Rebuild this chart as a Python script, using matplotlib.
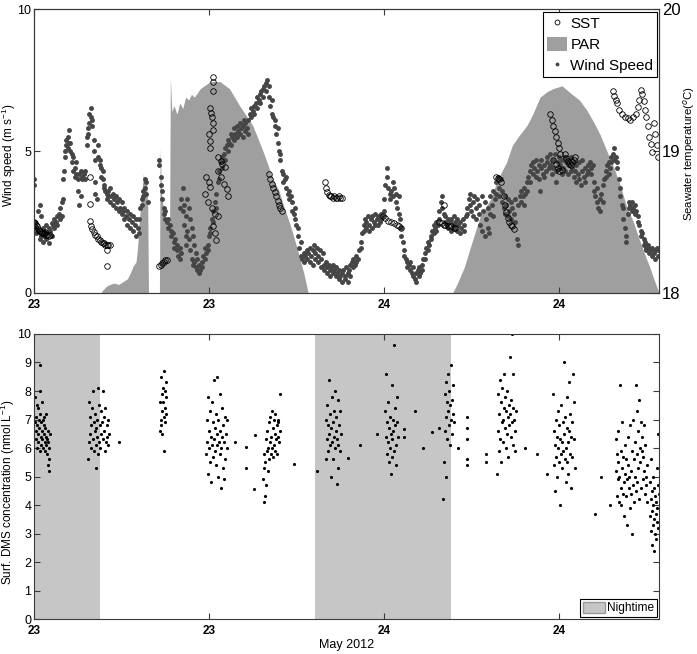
import numpy as np
import matplotlib
matplotlib.use('Agg')
import matplotlib.pyplot as plt
import matplotlib.dates as mdates
from matplotlib.patches import Patch
from matplotlib.lines import Line2D

plt.rcParams['font.family'] = ['Liberation Sans', 'DejaVu Sans']
plt.rcParams['mathtext.fontset'] = 'custom'
plt.rcParams['mathtext.rm'] = 'Liberation Sans'

# hours since 23 May 2012 00:00
start = np.datetime64('2012-05-23T00:00:00')
end_h = 42.86

# PAR (drawn on wind-speed scale)
par_h = [4.6, 4.7, 5.0, 5.2, 5.5, 5.8, 6.1, 6.4, 6.6, 6.8, 7.0, 7.1, 7.2, 7.3, 7.4, 7.5, 7.6, 7.7, 7.8, 7.85,
         8.6, 8.65, 8.75, 8.9, 9.1, 9.3, 9.35, 9.45, 9.6, 9.8, 10.0, 10.2, 10.4, 10.6, 10.8, 11.0, 11.4,
         12.1, 12.75, 13.4, 14.1, 15.0, 15.7, 16.4, 16.8, 17.1, 17.6, 18.0, 18.5, 18.8,
         28.7, 29.0, 29.5, 30.1, 30.6, 31.3, 31.8, 32.4, 32.8, 33.2, 33.8, 34.2, 34.7, 35.2, 35.6, 36.2,
         36.9, 37.4, 37.9, 38.4, 38.8, 39.2, 39.7, 40.2, 40.6, 41.1, 41.5, 42.0, 42.2, 42.5, 42.86]
par_v = [0.0, 0.1, 0.25, 0.3, 0.35, 0.3, 0.4, 0.5, 0.7, 0.95, 1.1, 1.6, 2.4, 3.0, 3.6, 4.2, 3.8, 4.1, 3.0, 0.0,
         0.0, 5.1, 3.5, 2.8, 2.6, 2.4, 7.6, 6.4, 6.6, 6.3, 6.7, 6.5, 6.9, 6.8, 7.0, 6.9, 7.2,
         7.45, 7.45, 7.2, 6.6, 5.9, 5.0, 4.0, 3.6, 3.1, 2.35, 1.65, 0.7, 0.0,
         0.0, 0.3, 0.9, 1.9, 2.7, 3.3, 4.0, 4.6, 5.2, 5.5, 5.9, 6.3, 6.9, 7.1, 7.2, 7.3,
         7.0, 6.8, 6.45, 6.0, 5.6, 5.1, 4.5, 3.8, 3.1, 2.5, 1.9, 1.2, 0.95, 0.5, 0.0]

# wind speed (m/s): (hour, readings)
wind_rows = [
    (0.0, [4.0, 3.8]), (0.05, [2.5, 2.4]), (0.15, [2.3, 2.1]), (0.3, [2.9, 2.2]), (0.4, [3.1, 1.9]),
    (0.5, [2.0, 2.7]), (0.6, [1.8, 2.3]), (0.7, [2.2, 2.0]), (0.8, [1.9, 2.4]), (0.9, [2.1]),
    (1.0, [1.75, 2.3]), (1.1, [2.2]), (1.2, [2.0, 2.45]), (1.3, [2.4]), (1.4, [2.6, 2.3]), (1.5, [2.5]),
    (1.6, [2.7, 2.4]), (1.7, [2.8]), (1.8, [3.0, 2.6]), (1.9, [3.2, 2.7]), (2.0, [4.0, 3.3]), (2.05, [4.3]),
    (2.1, [4.8, 5.0]), (2.2, [5.2, 5.4]), (2.3, [5.1, 5.5]), (2.4, [5.75, 5.3]), (2.5, [5.0, 5.3]),
    (2.6, [4.9, 4.6]), (2.7, [4.8, 4.3]), (2.8, [4.4, 4.1]), (2.9, [4.6, 4.2]), (3.0, [3.6, 4.0]),
    (3.1, [3.1, 4.2]), (3.2, [3.4, 4.3]), (3.3, [4.0, 4.1]), (3.4, [4.2]), (3.5, [4.3, 4.0]),
    (3.6, [5.2, 5.5]), (3.7, [5.8, 5.6]), (3.8, [6.0, 6.3]), (3.9, [6.5, 6.2]), (4.0, [6.1, 5.9]),
    (4.1, [5.4, 5.0]), (4.2, [4.7, 3.9, 3.5]), (4.3, [3.3]), (4.4, [4.8, 5.2]), (4.5, [4.5, 4.7]),
    (4.6, [4.4, 4.1]), (4.7, [4.0, 4.3]), (4.8, [3.8, 3.7]), (4.9, [3.6]), (5.0, [3.5, 3.3]),
    (5.1, [3.6, 3.4]), (5.2, [3.2, 3.7]), (5.3, [3.4]), (5.4, [3.5, 3.1]), (5.5, [3.3]), (5.6, [3.0, 3.4]),
    (5.7, [3.2]), (5.8, [2.9, 3.3]), (5.9, [3.0]), (6.0, [2.8, 3.2]), (6.1, [2.9]), (6.2, [2.6, 3.0]),
    (6.3, [2.7]), (6.4, [2.4, 2.9]), (6.5, [2.6]), (6.6, [2.3, 2.8]), (6.7, [2.5]), (6.8, [2.2, 2.7]),
    (6.9, [2.4]), (7.0, [2.0, 2.6]), (7.1, [2.3]), (7.2, [2.6, 2.1]), (7.3, [3.0]), (7.4, [3.3, 3.1]),
    (7.5, [3.6, 3.4]), (7.6, [4.0, 3.7]), (7.7, [3.9, 3.5]), (7.8, [3.2]),
    (8.6, [4.7, 4.5]), (8.7, [4.1, 3.8]), (8.8, [3.6, 3.3]), (8.9, [3.0, 2.8]), (9.0, [2.6, 2.9]),
    (9.1, [2.5]), (9.2, [2.3, 2.6]), (9.3, [2.4]), (9.4, [2.0, 2.2]), (9.5, [2.1]), (9.6, [1.8, 1.6]),
    (9.7, [1.9]), (9.8, [1.5, 1.7]), (9.9, [1.3]), (10.0, [1.2, 1.6, 3.0]), (10.1, [3.3, 1.4]),
    (10.2, [3.7, 2.9]), (10.3, [2.4, 3.1]), (10.4, [2.0, 2.7, 1.7]), (10.5, [3.3, 2.2]), (10.6, [3.0, 1.9]),
    (10.7, [2.6, 1.5]), (10.8, [2.3, 1.2]), (10.9, [2.0, 1.0]), (11.0, [1.1, 1.7]), (11.1, [0.9, 1.4]),
    (11.2, [0.8, 1.2]), (11.3, [0.7, 1.0]), (11.4, [0.8]), (11.5, [1.1, 0.9]), (11.6, [1.3]),
    (11.7, [1.2, 1.6]), (11.8, [1.4]), (11.9, [1.7, 1.5]), (12.0, [2.0]), (12.1, [2.3, 2.1]), (12.2, [2.6]),
    (12.3, [2.9, 2.5]), (12.4, [3.2]), (12.5, [3.5, 3.0]), (12.6, [3.9]), (12.7, [4.3, 4.0]), (12.8, [4.6]),
    (12.9, [4.8, 4.4]), (13.0, [4.9]), (13.1, [5.1, 4.7]), (13.2, [5.2]), (13.3, [5.4, 5.0]), (13.4, [5.3]),
    (13.5, [5.6, 5.2]), (13.6, [5.5]), (13.7, [5.8, 5.4]), (13.8, [5.6]), (13.9, [5.9, 5.5]), (14.0, [5.7]),
    (14.1, [6.0, 5.6]), (14.2, [5.8]), (14.3, [5.9, 5.5]), (14.4, [6.1]), (14.5, [5.7, 6.0]), (14.6, [5.8]),
    (14.7, [6.1, 5.6]), (14.8, [6.3]), (14.9, [6.2, 6.5]), (15.0, [6.4]), (15.1, [6.6, 6.3]), (15.2, [6.7]),
    (15.3, [6.5, 6.9]), (15.4, [6.8]), (15.5, [7.0, 6.7]), (15.6, [7.1]), (15.7, [6.9, 7.2]), (15.8, [7.3]),
    (15.9, [7.1, 7.4]), (16.0, [7.5]), (16.1, [7.3, 6.9]), (16.2, [6.6]), (16.3, [6.3, 6.8]), (16.4, [6.2]),
    (16.5, [5.9, 6.1]), (16.6, [5.6]), (16.7, [5.3, 5.8]), (16.8, [5.0]), (16.9, [4.7, 4.9]), (17.0, [4.3]),
    (17.1, [4.2, 3.9]), (17.2, [4.0]), (17.3, [3.7, 4.1]), (17.4, [3.5]), (17.5, [3.6, 3.3]), (17.6, [3.4]),
    (17.7, [3.2, 2.9]), (17.8, [2.8]), (17.9, [2.6, 3.0]), (18.0, [2.4]), (18.1, [2.0, 2.3]), (18.2, [1.6]),
    (18.3, [1.3, 1.8]), (18.4, [1.2]), (18.5, [1.4, 1.1]), (18.6, [1.3]), (18.7, [1.5, 1.2]), (18.8, [1.4]),
    (18.9, [1.1, 1.6]), (19.0, [1.3]), (19.1, [1.5, 1.0]), (19.2, [1.7]), (19.3, [1.2, 1.4]), (19.4, [1.6]),
    (19.5, [1.1, 1.3]), (19.6, [1.5]), (19.7, [0.9, 1.2]), (19.8, [1.4]), (19.9, [1.0, 0.8]), (20.0, [1.1]),
    (20.1, [0.9, 0.7]), (20.2, [1.0]), (20.3, [0.8, 0.6]), (20.4, [0.9]), (20.5, [0.7, 1.0]), (20.6, [0.8]),
    (20.7, [0.6, 0.9]), (20.8, [0.7]), (20.9, [0.5, 0.8]), (21.0, [0.6]), (21.1, [0.4, 0.7]), (21.2, [0.8]),
    (21.3, [0.5, 0.6]), (21.4, [0.9]), (21.5, [0.7, 0.4]), (21.6, [0.8]), (21.7, [1.0, 0.6]), (21.8, [1.1]),
    (21.9, [0.9, 1.2]), (22.0, [1.0]), (22.1, [1.3, 1.1]), (22.2, [1.2]), (22.3, [1.5]), (22.4, [1.8, 1.6]),
    (22.5, [2.1]), (22.6, [2.4, 2.2]), (22.7, [2.6]), (22.8, [2.3, 2.5]), (22.9, [2.7]), (23.0, [2.4, 2.2]),
    (23.1, [2.6]), (23.2, [2.3, 2.7]), (23.3, [2.5]), (23.4, [2.8, 2.4]), (23.5, [2.6]), (23.6, [2.4, 2.7]),
    (23.7, [2.5]), (23.8, [2.8, 2.6]), (23.9, [2.7]), (24.0, [3.3, 2.9]), (24.1, [3.8]), (24.2, [4.4, 4.1]),
    (24.3, [3.7]), (24.4, [3.5, 3.3]), (24.5, [3.6]), (24.6, [3.9, 3.4]), (24.7, [3.7]), (24.8, [3.5, 3.2]),
    (24.9, [3.0]), (25.0, [3.4, 2.8]), (25.1, [2.6]), (25.2, [2.3, 2.0]), (25.3, [1.8]), (25.4, [1.5, 1.3]),
    (25.5, [1.2]), (25.6, [1.1, 0.9]), (25.7, [1.0]), (25.8, [0.8, 1.1]), (25.9, [0.7]), (26.0, [0.6, 0.9]),
    (26.1, [0.5]), (26.2, [0.7, 0.4]), (26.3, [0.8]), (26.4, [0.6, 0.9]), (26.5, [0.7]), (26.6, [1.0, 0.8]),
    (26.7, [1.2]), (26.8, [1.4, 1.2]), (26.9, [1.6]), (27.0, [1.5, 1.8]), (27.1, [1.7]), (27.2, [2.0, 1.9]),
    (27.3, [2.2]), (27.4, [2.1, 2.4]), (27.5, [2.3]), (27.6, [2.2, 2.5]), (27.7, [2.4]), (27.8, [2.9, 2.6]),
    (27.9, [3.2]), (28.0, [3.4, 3.0]), (28.1, [2.8]), (28.2, [2.5, 2.7]), (28.3, [2.4]), (28.4, [2.6, 2.3]),
    (28.5, [2.5]), (28.6, [2.2, 2.6]), (28.7, [2.4]), (28.8, [2.7, 2.3]), (28.9, [2.5]), (29.0, [2.2, 2.6]),
    (29.1, [2.4]), (29.2, [2.1, 2.5]), (29.3, [2.3]), (29.4, [2.6]), (29.5, [2.2, 2.4]), (29.6, [2.7]),
    (29.7, [3.0, 2.8]), (29.8, [3.3]), (29.9, [3.5, 3.1]), (30.0, [2.9]), (30.1, [3.2, 2.7]), (30.2, [3.4]),
    (30.3, [3.0, 2.6]), (30.4, [3.3]), (30.5, [2.8, 3.1]), (30.6, [2.4]), (30.7, [3.4, 2.2]), (30.8, [2.9]),
    (30.9, [2.0, 3.2]), (31.0, [2.6]), (31.1, [2.3, 3.0]), (31.2, [2.1]), (31.3, [2.8, 3.4]), (31.4, [3.1]),
    (31.5, [3.6, 2.7]), (31.6, [3.3]), (31.7, [3.9, 3.5]), (31.8, [4.1]), (31.9, [3.7, 3.4]), (32.0, [4.0]),
    (32.1, [3.6, 3.2]), (32.2, [3.0]), (32.3, [3.4, 2.8]), (32.4, [3.1]), (32.5, [2.7, 3.3]), (32.6, [2.9]),
    (32.7, [2.6, 3.2]), (32.8, [3.0]), (32.9, [2.8]), (33.0, [3.3, 2.5]), (33.1, [1.9]), (33.2, [1.7, 3.1]),
    (33.3, [3.4]), (33.4, [3.6, 3.2]), (33.5, [3.4]), (33.6, [3.7, 3.1]), (33.7, [3.5]), (33.8, [3.9, 3.6]),
    (33.9, [4.1]), (34.0, [4.3, 3.9]), (34.1, [4.5]), (34.2, [4.6, 4.2]), (34.3, [4.4]), (34.4, [4.7, 4.1]),
    (34.5, [4.3]), (34.6, [4.5, 4.0]), (34.7, [3.6]), (34.8, [4.4, 4.7]), (34.9, [4.2]), (35.0, [4.5, 4.1]),
    (35.1, [4.3]), (35.2, [4.6, 4.8]), (35.3, [4.4]), (35.4, [4.9, 4.5]), (35.5, [4.2]), (35.6, [4.7, 4.4]),
    (35.7, [4.9]), (35.8, [4.3, 3.9]), (35.9, [4.6]), (36.0, [4.4, 4.8]), (36.1, [4.5]), (36.2, [4.2, 4.7]),
    (36.3, [4.4]), (36.4, [4.8, 4.3]), (36.5, [4.6]), (36.6, [4.2, 4.7]), (36.7, [4.5]), (36.8, [4.3, 4.8]),
    (36.9, [4.4]), (37.0, [4.6, 4.1]), (37.1, [4.3]), (37.2, [4.5, 3.9]), (37.3, [4.2]), (37.4, [4.6, 4.0]),
    (37.5, [3.8]), (37.6, [4.3, 4.7]), (37.7, [4.1]), (37.8, [3.9, 4.4]), (37.9, [4.2]), (38.0, [4.3, 4.5]),
    (38.1, [4.6]), (38.2, [4.4, 4.2]), (38.3, [4.5]), (38.4, [3.9, 3.6]), (38.5, [3.4]), (38.6, [3.2, 3.7]),
    (38.7, [3.0]), (38.8, [3.3, 2.9]), (38.9, [3.5]), (39.0, [3.8, 3.2]), (39.1, [4.0]), (39.2, [4.3, 4.1]),
    (39.3, [4.5]), (39.4, [4.2, 4.6]), (39.5, [4.4]), (39.6, [4.6, 4.8]), (39.7, [4.9]), (39.8, [5.1, 4.7]),
    (39.9, [4.8]), (40.0, [4.6, 4.4]), (40.1, [4.0]), (40.2, [3.7, 3.4]), (40.3, [3.1]), (40.4, [3.0, 2.6]),
    (40.5, [2.3]), (40.6, [2.0, 1.8]), (40.7, [2.8]), (40.8, [3.0, 3.2]), (40.9, [3.1]), (41.0, [2.9, 3.2]),
    (41.1, [3.0]), (41.2, [3.1, 2.8]), (41.3, [2.9]), (41.4, [2.7, 2.5]), (41.5, [2.4]), (41.6, [2.2, 2.0]),
    (41.7, [2.1]), (41.8, [1.9, 1.7]), (41.9, [1.8]), (42.0, [1.6, 1.5]), (42.1, [1.7]), (42.2, [1.4, 1.6]),
    (42.3, [1.5]), (42.4, [1.3, 1.6]), (42.5, [1.4]), (42.6, [1.5, 1.2]), (42.7, [1.6]), (42.8, [1.3, 1.5]),
]

# sea surface temperature (deg C)
sst_h = [0.0, 0.1, 0.15, 0.2, 0.3, 0.35, 0.4, 0.5, 0.55, 0.6, 0.7, 0.75, 0.8, 0.9, 1.0, 1.1,
         3.84, 3.84, 3.84, 3.9, 4.0, 4.1, 4.2, 4.3, 4.4, 4.5, 4.6, 4.7, 4.8, 4.9, 5.0, 5.1, 5.2, 4.98, 4.98,
         8.6, 8.7, 8.8, 8.9, 9.0, 9.1,
         12.3, 12.3, 12.3, 12.1, 12.15, 12.2, 12.25, 12.3, 12.0, 12.05, 12.1, 12.6, 12.8, 12.9, 13.1,
         12.6, 12.8, 13.0, 13.2, 13.3, 11.8, 12.0, 12.1, 11.7, 11.9, 12.2, 12.4, 12.6, 12.3, 12.4, 12.5,
         16.1, 16.2, 16.3, 16.4, 16.5, 16.6, 16.7, 16.8, 16.9, 17.0,
         19.95, 20.0, 20.1, 20.2, 20.3, 20.4, 20.5, 20.6, 20.7, 20.8, 20.9, 21.0, 21.1,
         23.95, 24.1, 24.3, 24.5, 24.7, 24.9, 25.05, 25.2,
         27.8, 28.0, 28.1, 28.2, 28.4, 28.6, 28.8, 28.9, 28.1,
         31.7, 31.8, 31.9, 32.0, 32.2, 32.3, 32.4, 32.5, 32.6, 32.7, 32.8, 32.9,
         35.4, 35.5, 35.6, 35.7, 35.8, 35.9, 36.0, 36.1, 35.6, 35.8, 35.9, 36.0, 36.2,
         36.4, 36.5, 36.6, 36.7, 36.8, 36.9, 37.0, 37.1,
         39.7, 39.8, 39.9, 40.0, 40.1, 40.3, 40.5, 40.7, 40.9, 41.1, 41.3,
         41.4, 41.5, 41.6, 41.7, 41.8, 41.9, 42.0, 42.1, 42.2, 42.3, 42.4, 42.5, 42.6, 42.7, 42.8]
sst_v = [18.50, 18.49, 18.48, 18.47, 18.45, 18.44, 18.44, 18.43, 18.42, 18.42, 18.42, 18.43, 18.41, 18.41, 18.40, 18.41,
         18.82, 18.63, 18.51, 18.47, 18.45, 18.43, 18.41, 18.40, 18.38, 18.37, 18.36, 18.35, 18.35, 18.34, 18.34, 18.34, 18.34, 18.30, 18.19,
         18.19, 18.20, 18.21, 18.22, 18.23, 18.23,
         19.52, 19.49, 19.42, 19.30, 19.27, 19.24, 19.20, 19.15, 19.12, 19.07, 19.02, 18.96, 18.93, 18.91, 18.89,
         18.86, 18.82, 18.77, 18.73, 18.68, 18.82, 18.78, 18.75, 18.70, 18.64, 18.60, 18.56, 18.54, 18.47, 18.42, 18.37,
         18.84, 18.80, 18.77, 18.74, 18.71, 18.68, 18.65, 18.62, 18.60, 18.58,
         18.78, 18.74, 18.71, 18.69, 18.68, 18.68, 18.67, 18.68, 18.67, 18.67, 18.68, 18.67, 18.67,
         18.54, 18.53, 18.51, 18.50, 18.49, 18.48, 18.47, 18.46,
         18.50, 18.49, 18.48, 18.48, 18.47, 18.47, 18.46, 18.46, 18.62,
         18.82, 18.81, 18.80, 18.78, 18.68, 18.62, 18.57, 18.53, 18.50, 18.48, 18.47, 18.45,
         19.26, 19.22, 19.18, 19.14, 19.10, 19.06, 19.02, 18.98, 18.94, 18.91, 18.88, 18.86, 18.87,
         18.98, 18.95, 18.93, 18.91, 18.90, 18.92, 18.94, 18.96,
         19.42, 19.39, 19.36, 19.34, 19.29, 19.26, 19.24, 19.23, 19.22, 19.24, 19.26,
         19.31, 19.36, 19.43, 19.40, 19.35, 19.29, 19.24, 19.18, 19.10, 19.05, 18.99, 19.20, 19.12, 19.04, 18.96]

# surface DMS (nmol/L), one list per sampling burst
dms_c1 = [(0.08, 6.9), (0.10, 7.8), (0.12, 6.3), (0.14, 6.6), (0.17, 7.1), (0.20, 6.0), (0.22, 6.8), (0.22, 7.5),
          (0.25, 7.4), (0.27, 6.5), (0.30, 6.2), (0.32, 7.0), (0.35, 6.7), (0.38, 5.9), (0.40, 8.9), (0.40, 8.0),
          (0.42, 7.2), (0.45, 6.4), (0.48, 6.9), (0.50, 6.1), (0.53, 7.6), (0.55, 6.6), (0.58, 6.3), (0.60, 7.0),
          (0.63, 6.0), (0.66, 6.8), (0.68, 6.5), (0.70, 7.1), (0.73, 6.2), (0.75, 5.9), (0.78, 6.7), (0.80, 6.4),
          (0.83, 7.2), (0.85, 6.1), (0.88, 6.3), (0.90, 5.8), (0.93, 6.6), (0.95, 5.4), (0.98, 6.2), (1.00, 5.2),
          (1.03, 6.0), (1.06, 5.6), (1.08, 6.5)]
dms_c2 = [(3.72, 5.6), (3.75, 7.6), (3.78, 6.2), (3.82, 7.1), (3.86, 6.5), (3.90, 6.0), (3.94, 6.8), (3.98, 7.4),
          (4.02, 8.0), (4.05, 6.3), (4.08, 6.9), (4.12, 5.9), (4.15, 7.2), (4.18, 6.6), (4.22, 6.1), (4.25, 5.3),
          (4.28, 6.7), (4.32, 7.0), (4.35, 6.4), (4.38, 5.8), (4.42, 8.1), (4.45, 6.2), (4.48, 7.5), (4.52, 6.8),
          (4.55, 6.0), (4.58, 7.3), (4.62, 6.5), (4.65, 6.9), (4.70, 8.0), (4.74, 6.3), (4.78, 7.1), (4.82, 6.6),
          (4.86, 5.9), (4.90, 7.4), (4.94, 6.2), (4.98, 6.8), (5.02, 6.4), (5.06, 7.0), (5.10, 6.1), (5.15, 6.5)]
dms_c3 = [(8.62, 6.6), (8.65, 7.6), (8.68, 8.5), (8.70, 7.0), (8.72, 6.8), (8.75, 7.9), (8.78, 7.3), (8.80, 6.5),
          (8.82, 8.1), (8.85, 7.6), (8.88, 5.9), (8.90, 7.1), (8.92, 8.7), (8.95, 7.4), (8.98, 6.9), (9.00, 8.0),
          (9.02, 7.2), (9.05, 8.3), (9.08, 7.8)]
dms_c4 = [(11.82, 5.8), (11.85, 7.0), (11.88, 6.2), (11.92, 7.8), (11.95, 5.1), (11.98, 6.6), (12.02, 6.0),
          (12.05, 7.3), (12.08, 5.5), (12.12, 6.4), (12.15, 4.8), (12.18, 7.6), (12.22, 6.1), (12.25, 5.7),
          (12.28, 6.9), (12.32, 6.3), (12.35, 8.4), (12.38, 5.9), (12.42, 6.7), (12.45, 7.2), (12.48, 5.4),
          (12.52, 6.1), (12.55, 8.5), (12.58, 6.5), (12.62, 5.0), (12.65, 7.0), (12.68, 6.2), (12.72, 7.9),
          (12.75, 5.8), (12.78, 6.6), (12.82, 4.6), (12.85, 6.0), (12.88, 7.4), (12.92, 6.4), (12.95, 5.3),
          (12.98, 6.8), (13.02, 4.9), (13.05, 6.2), (13.08, 7.1), (13.12, 5.6), (13.15, 6.5), (13.20, 6.0),
          (13.25, 7.0)]
dms_c5 = [(15.72, 4.9), (15.75, 5.8), (15.78, 4.1), (15.80, 5.3), (15.83, 4.3), (15.86, 5.5), (15.90, 6.3),
          (15.93, 4.7), (15.96, 5.9), (16.00, 6.6), (16.03, 5.2), (16.06, 6.0), (16.10, 6.9), (16.13, 5.6),
          (16.16, 6.2), (16.20, 7.1), (16.23, 5.8), (16.26, 6.4), (16.30, 6.0), (16.33, 7.3), (16.36, 5.7),
          (16.40, 6.7), (16.43, 6.1), (16.46, 7.0), (16.50, 5.9), (16.53, 6.5), (16.56, 7.2), (16.60, 6.3),
          (16.63, 6.8), (16.66, 5.8), (16.70, 7.0), (16.73, 6.4), (16.76, 6.9), (16.80, 6.2), (16.85, 7.9),
          (16.90, 6.6)]
dms_c6 = [(20.02, 5.6), (20.05, 7.0), (20.08, 6.3), (20.12, 7.5), (20.15, 5.9), (20.18, 6.8), (20.22, 6.5),
          (20.25, 8.4), (20.28, 6.1), (20.32, 7.2), (20.35, 5.0), (20.38, 6.7), (20.42, 7.8), (20.45, 6.2),
          (20.48, 6.9), (20.52, 5.6), (20.55, 7.3), (20.58, 6.4), (20.62, 8.0), (20.65, 6.0), (20.68, 6.6),
          (20.72, 7.1), (20.75, 4.75), (20.78, 6.3), (20.82, 5.3), (20.85, 7.7), (20.88, 6.1), (20.92, 6.8),
          (20.96, 5.9), (21.00, 7.3), (21.05, 6.5)]
dms_c7 = [(24.08, 7.3), (24.12, 6.4), (24.15, 8.6), (24.18, 5.8), (24.22, 6.9), (24.25, 6.2), (24.28, 7.6),
          (24.32, 5.5), (24.35, 6.7), (24.38, 6.0), (24.42, 7.1), (24.45, 5.1), (24.48, 6.5), (24.52, 8.2),
          (24.55, 6.3), (24.58, 5.7), (24.62, 7.0), (24.65, 6.6), (24.70, 9.6), (24.72, 5.9), (24.75, 6.8),
          (24.78, 7.4), (24.82, 6.1), (24.85, 5.4), (24.88, 6.9), (24.92, 7.8), (24.96, 6.4)]
dms_c8 = [(28.08, 4.2), (28.12, 5.5), (28.15, 7.9), (28.18, 6.6), (28.22, 8.3), (28.25, 5.0), (28.28, 7.1),
          (28.32, 7.6), (28.35, 6.3), (28.38, 8.6), (28.42, 7.3), (28.45, 6.8), (28.48, 8.0), (28.52, 7.5),
          (28.55, 6.1), (28.58, 8.9), (28.62, 7.0), (28.65, 7.7), (28.68, 6.5), (28.72, 8.2), (28.75, 7.2),
          (28.80, 6.9)]
dms_c9 = [(31.78, 5.1), (31.82, 6.6), (31.85, 7.9), (31.88, 5.9), (31.92, 7.2), (31.95, 8.4), (31.98, 6.3),
          (32.02, 7.6), (32.05, 5.5), (32.08, 6.9), (32.12, 8.1), (32.15, 7.0), (32.18, 6.2), (32.22, 7.4),
          (32.25, 8.6), (32.28, 6.7), (32.32, 7.8), (32.35, 6.0), (32.38, 7.3), (32.42, 6.5), (32.45, 8.0),
          (32.48, 7.1), (32.52, 5.7), (32.55, 7.5), (32.58, 6.8), (32.62, 9.2), (32.65, 7.2), (32.68, 6.4),
          (32.72, 7.7), (32.75, 10.0), (32.78, 6.9), (32.82, 7.4), (32.85, 8.6), (32.88, 6.1), (32.92, 7.0),
          (32.96, 5.9), (33.00, 6.6), (33.05, 7.3)]
dms_c10 = [(35.62, 7.9), (35.65, 5.4), (35.68, 6.6), (35.72, 4.5), (35.75, 6.1), (35.78, 7.0), (35.82, 5.7),
           (35.85, 6.4), (35.88, 5.0), (35.92, 7.3), (35.95, 6.0), (35.98, 5.5), (36.02, 6.8), (36.05, 4.0),
           (36.08, 6.3), (36.12, 5.8), (36.15, 7.5), (36.18, 6.2), (36.22, 5.3), (36.25, 6.9), (36.28, 5.9),
           (36.32, 9.0), (36.35, 6.5), (36.38, 5.6), (36.42, 7.1), (36.45, 6.0), (36.48, 4.8), (36.52, 6.7),
           (36.55, 5.5), (36.58, 7.8), (36.62, 6.2), (36.65, 5.1), (36.68, 6.6), (36.72, 8.3), (36.75, 5.8),
           (36.78, 7.2), (36.82, 6.4), (36.85, 4.6), (36.88, 6.9), (36.92, 5.7), (36.96, 8.6), (37.00, 6.3),
           (37.05, 7.6), (37.10, 5.3)]
dms_c11 = [(39.88, 6.3), (39.92, 5.2), (39.95, 4.3), (39.98, 5.8), (40.02, 4.9), (40.05, 6.6), (40.08, 5.5),
           (40.12, 4.1), (40.15, 5.0), (40.18, 8.2), (40.22, 4.6), (40.25, 5.9), (40.28, 4.0), (40.32, 6.9),
           (40.35, 5.3), (40.38, 4.4), (40.42, 5.7), (40.45, 3.6), (40.48, 4.8), (40.52, 6.1), (40.55, 5.1),
           (40.58, 4.3), (40.62, 5.6), (40.65, 3.3), (40.68, 4.9), (40.72, 6.4), (40.75, 5.4), (40.78, 4.6),
           (40.82, 5.0), (40.85, 3.9), (40.88, 6.8), (40.92, 5.2), (40.95, 4.4), (40.98, 5.9), (41.02, 3.0),
           (41.05, 4.7), (41.08, 7.0), (41.12, 5.6), (41.15, 4.1), (41.18, 6.2), (41.22, 5.0), (41.25, 8.2),
           (41.28, 4.5), (41.32, 5.8), (41.35, 7.3), (41.38, 4.8), (41.42, 6.6), (41.45, 5.3), (41.48, 7.7),
           (41.52, 4.2), (41.55, 6.0), (41.58, 5.5), (41.62, 6.9), (41.65, 4.6), (41.68, 5.9), (41.72, 6.4),
           (41.75, 4.9), (41.78, 5.7), (41.82, 6.8), (41.85, 5.2), (41.88, 4.4), (41.92, 6.1), (41.95, 5.0),
           (41.98, 4.7), (42.02, 5.4), (42.06, 4.1)]
dms_c12 = [(42.22, 4.8), (42.25, 3.6), (42.28, 5.6), (42.30, 4.2), (42.33, 3.1), (42.36, 4.5), (42.38, 2.6),
           (42.40, 3.8), (42.42, 5.0), (42.45, 3.3), (42.48, 4.0), (42.50, 2.4), (42.52, 3.5), (42.55, 4.6),
           (42.58, 3.0), (42.60, 4.3), (42.62, 3.7), (42.65, 2.8), (42.68, 4.1), (42.70, 3.4), (42.72, 5.3),
           (42.75, 3.9), (42.78, 4.7), (42.80, 3.2), (42.82, 6.5), (42.84, 4.4)]
dms_single = [(5.8, 6.2), (13.8, 6.2), (14.55, 6.05), (14.55, 5.3), (15.1, 4.55), (15.15, 6.45), (17.8, 5.45),
              (19.4, 5.2), (21.55, 5.65), (22.35, 6.1), (23.5, 6.5), (25.4, 6.4), (25.4, 6.65), (26.1, 7.3),
              (26.65, 6.0), (27.3, 6.55), (27.8, 6.7), (29.1, 6.0), (29.7, 5.4), (29.7, 5.6), (29.7, 6.3),
              (29.7, 6.7), (29.7, 7.1), (31.0, 5.5), (31.0, 5.8), (33.7, 6.0), (34.5, 5.8), (35.2, 5.1),
              (38.5, 3.7), (38.9, 5.0), (39.5, 4.0)]

night_start = [0.0, 19.25]
night_end = [4.53, 28.57]

par_color = '#9f9f9f'
wind_color = '#454545'
night_color = '#c6c6c6'
spine_color = '#3a3a3a'


def to_time(h):
    return start + (np.asarray(h, dtype=float) * 3600).astype('timedelta64[s]')


wind_h = [h for h, vals in wind_rows for v in vals]
wind_v = [v for h, vals in wind_rows for v in vals]

dms_all = dms_c1 + dms_c2 + dms_c3 + dms_c4 + dms_c5 + dms_c6 + dms_c7 + dms_c8 + dms_c9 + dms_c10 \
    + dms_c11 + dms_c12 + dms_single
dms_h = [p[0] for p in dms_all]
dms_v = [p[1] for p in dms_all]

fig = plt.figure(figsize=(6.97, 6.54), dpi=100)
ax1 = fig.add_axes([0.0488, 0.552, 0.8967, 0.434])
ax2 = ax1.twinx()
ax3 = fig.add_axes([0.0488, 0.0535, 0.8967, 0.4358])

x0, x1 = to_time(0.0), to_time(end_h)

# top panel
ax1.fill_between(to_time(par_h), 0, par_v, color=par_color, lw=0)
ax1.plot(to_time(wind_h), wind_v, ls='none', marker='.', ms=5, color=wind_color)
ax2.plot(to_time(sst_h), sst_v, ls='none', marker='o', ms=4, mfc='none', mec='black', mew=0.6)

ax1.set_ylim(0, 10)
ax1.set_yticks([0, 5, 10])
ax2.set_ylim(18, 20)
ax2.set_yticks([18, 19, 20])
ax1.set_ylabel('Wind speed (m s$^{-1}$)', fontsize=8.5)
ax1.yaxis.set_label_coords(-0.026, 0.486)
ax2.set_ylabel('Seawater temperature($^{o}$C)', fontsize=8.2)
ax2.yaxis.set_label_coords(1.0355, 0.49)

handles = [Line2D([], [], ls='none', marker='o', ms=3.5, mfc='none', mec='black', mew=0.6),
           Patch(facecolor=par_color, edgecolor='none'),
           Line2D([], [], ls='none', marker='.', ms=3.5, color=wind_color)]
leg = ax2.legend(handles, ['SST', 'PAR', 'Wind Speed'], loc='upper right', bbox_to_anchor=(0.997, 0.99),
                 fontsize=11, frameon=True, fancybox=False, framealpha=1, edgecolor='black',
                 borderpad=0.25, labelspacing=0.34, handlelength=1.35, handleheight=1.1,
                 handletextpad=0.2, borderaxespad=0)
leg.get_frame().set_linewidth(0.8)

# bottom panel
for s, e in zip(night_start, night_end):
    ax3.axvspan(to_time(s), to_time(e), color=night_color, lw=0)
ax3.plot(to_time(dms_h), dms_v, ls='none', marker='.', ms=2.5, color='black')
ax3.set_ylim(0, 10)
ax3.set_yticks(range(0, 11))
ax3.set_ylabel('Surf. DMS concentration (nmol L$^{-1}$)', fontsize=8.5)
ax3.yaxis.set_label_coords(-0.027, 0.446)
ax3.set_xlabel('May 2012', fontsize=9, labelpad=2)
leg2 = ax3.legend([Patch(facecolor=night_color, edgecolor='#999999')], ['Nightime'], loc='lower right',
                  bbox_to_anchor=(0.997, 0.006), fontsize=8.6, frameon=True, fancybox=False, framealpha=1,
                  edgecolor='black', borderpad=0.25, handlelength=1.9, handleheight=1.0,
                  handletextpad=0.15, borderaxespad=0)
leg2.get_frame().set_linewidth(0.8)

for ax in (ax1, ax3):
    ax.set_xlim(x0, x1)
    ax.xaxis.set_major_locator(mdates.HourLocator(byhour=[0, 12]))
    ax.xaxis.set_major_formatter(mdates.DateFormatter('%d'))
    ax.tick_params(axis='x', direction='in', top=True, length=4, labelsize=8.5, pad=4, color=spine_color)
    ax.tick_params(axis='y', direction='in', length=4, labelsize=9, pad=2, color=spine_color)
    plt.setp(ax.get_xticklabels(), fontweight='bold')
ax3.tick_params(axis='y', right=True)
ax1.tick_params(axis='y', right=False)
ax2.tick_params(axis='y', direction='in', length=4, labelsize=12, pad=2, color=spine_color)

for ax in (ax1, ax2, ax3):
    for sp in ax.spines.values():
        sp.set_color(spine_color)
        sp.set_linewidth(0.8)

fig.savefig('out.png', dpi=100)
